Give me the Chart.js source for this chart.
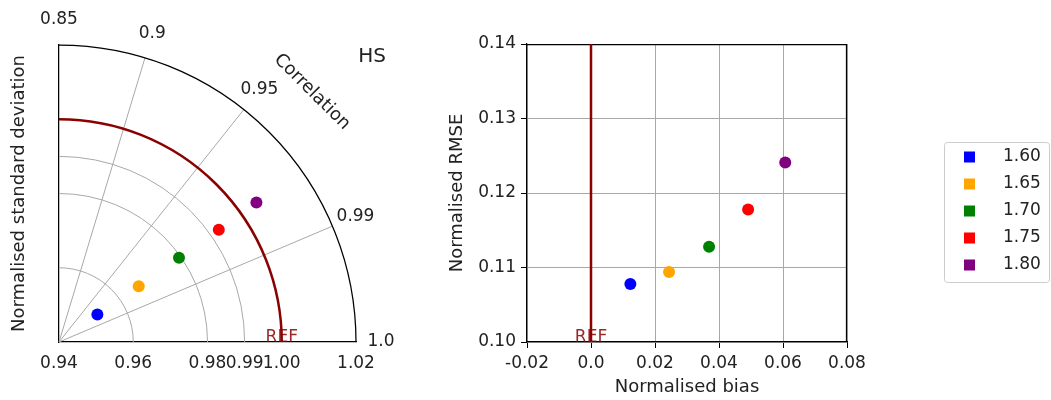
<!DOCTYPE html>
<html>
<head>
<meta charset="utf-8">
<script src="https://cdn.jsdelivr.net/npm/chart.js@4/dist/chart.umd.min.js"></script>
<style>
  body { margin: 0; background: #fff; }
  #wrap { position: relative; width: 1051px; height: 400px; }
  #taylor { position: absolute; left: 0; top: 0; }
  #scatter { position: absolute; left: 440px; top: 0; }
</style>
</head>
<body>
<div id="wrap">
  <canvas id="taylor" width="440" height="400"></canvas>
  <canvas id="scatter" width="611" height="400"></canvas>
</div>
<script>
// model runs
const labels = ["1.60", "1.65", "1.70", "1.75", "1.80"];
const colors = ["blue", "orange", "green", "red", "purple"];

// Taylor diagram values
const stdDev = [0.9527, 0.9662, 0.9795, 0.9926, 1.0051];
const correlation = [0.9761, 0.9769, 0.9767, 0.9767, 0.9765];

// bias / rmse values
const bias = [0.0123, 0.0244, 0.0369, 0.0491, 0.0607];
const rmse = [0.1078, 0.1094, 0.1128, 0.1178, 0.1241];

// reference
const refStd = 1.0;
const refBias = 0.0;

// ticks
const stdTicks = [0.94, 0.96, 0.98, 0.99, 1.00, 1.02];
const stdGrid = [0.96, 0.98, 0.99];
const corrTicks = [0.85, 0.9, 0.95, 0.99, 1.0];
const corrTickLabels = ["0.85", "0.9", "0.95", "0.99", "1.0"];
const corrGrid = [0.9, 0.95, 0.99];
const biasTicks = [-0.02, 0, 0.02, 0.04, 0.06, 0.08];
const rmseTicks = [0.10, 0.11, 0.12, 0.13, 0.14];

Chart.defaults.font.family = "'DejaVu Sans', sans-serif";
Chart.defaults.font.size = 17;
Chart.defaults.color = "#222";
Chart.defaults.animation = false;

const darkRed = "#8b0000";
const gridGray = "#a8a8a8";
const titleFont = { size: 18 };

const stdMin = stdTicks[0];
const stdMax = stdTicks[stdTicks.length - 1];

// correlation -> angle, stretched so corrTicks[0] sits at 90 degrees
function corrAngle(c) {
  return (Math.acos(c) / Math.acos(corrTicks[0])) * Math.PI / 2;
}

function taylorPoint(i) {
  const r = stdDev[i] - stdMin;
  const a = corrAngle(correlation[i]);
  return { x: stdMin + r * Math.cos(a), y: stdMin + r * Math.sin(a) };
}

const taylorGrid = {
  id: "taylorGrid",
  beforeDatasetsDraw(chart) {
    const { ctx, scales: { x, y }, chartArea } = chart;
    const ox = x.getPixelForValue(stdMin);
    const oy = y.getPixelForValue(stdMin);
    const rad = (s) => x.getPixelForValue(s) - ox;
    const R = rad(stdMax);

    ctx.save();
    ctx.lineWidth = 1;
    ctx.strokeStyle = gridGray;
    stdGrid.forEach((s) => {
      ctx.beginPath();
      ctx.arc(ox, oy, rad(s), -Math.PI / 2, 0);
      ctx.stroke();
    });
    corrGrid.forEach((c) => {
      const a = corrAngle(c);
      ctx.beginPath();
      ctx.moveTo(ox, oy);
      ctx.lineTo(ox + R * Math.cos(a), oy - R * Math.sin(a));
      ctx.stroke();
    });

    // outer boundary
    ctx.strokeStyle = "#000";
    ctx.lineWidth = 1.25;
    ctx.beginPath();
    ctx.arc(ox, oy, R, -Math.PI / 2, 0);
    ctx.stroke();

    // reference arc
    ctx.strokeStyle = darkRed;
    ctx.lineWidth = 2.5;
    ctx.beginPath();
    ctx.arc(ox, oy, rad(refStd), -Math.PI / 2, 0);
    ctx.stroke();

    ctx.font = "17px 'DejaVu Sans', sans-serif";
    ctx.fillStyle = "rgba(139,0,0,0.85)";
    ctx.textAlign = "center";
    ctx.textBaseline = "alphabetic";
    ctx.fillText("REF", ox + rad(refStd), oy);

    // correlation labels
    ctx.fillStyle = "#222";
    ctx.textBaseline = "middle";
    corrTicks.forEach((c, i) => {
      const a = corrAngle(c);
      ctx.fillText(corrTickLabels[i], ox + (R + 25) * Math.cos(a), oy - (R + 25) * Math.sin(a));
    });

    ctx.save();
    ctx.font = "18px 'DejaVu Sans', sans-serif";
    ctx.translate(ox + R * 1.2 * Math.cos(Math.PI / 4) + 1, oy - R * 1.2 * Math.sin(Math.PI / 4) + 2);
    ctx.rotate(Math.PI / 4);
    ctx.fillText("Correlation", 0, 0);
    ctx.restore();

    ctx.font = "20px 'DejaVu Sans', sans-serif";
    ctx.fillText("HS", chartArea.right + 16, chartArea.top + 12);
    ctx.restore();
  },
};

new Chart(document.getElementById("taylor"), {
  type: "scatter",
  data: {
    datasets: labels.map((l, i) => ({
      label: l,
      data: [taylorPoint(i)],
      backgroundColor: colors[i],
      borderWidth: 0,
      pointRadius: 6,
    })),
  },
  options: {
    responsive: false,
    events: [],
    layout: { padding: { top: 45, right: 84, left: 0, bottom: 0 } },
    plugins: { legend: { display: false }, tooltip: { enabled: false } },
    scales: {
      x: {
        min: stdMin,
        max: stdMax,
        afterBuildTicks: (s) => { s.ticks = stdTicks.map((v) => ({ value: v })); },
        afterFit: (s) => { s.height = 58; },
        ticks: { callback: (v) => v.toFixed(2), padding: 11, maxRotation: 0, autoSkip: false },
        grid: { display: false, drawTicks: false },
        border: { display: true, color: "#000", width: 1.25 },
      },
      y: {
        min: stdMin,
        max: stdMax,
        afterFit: (s) => { s.width = 59; },
        ticks: { display: false },
        grid: { display: false, drawTicks: false },
        border: { display: true, color: "#000", width: 1.25 },
        title: { display: true, text: "Normalised standard deviation", font: titleFont, padding: { top: 9, bottom: 0 } },
      },
    },
  },
  plugins: [taylorGrid],
});

const scatterExtras = {
  id: "scatterExtras",
  beforeDatasetsDraw(chart) {
    const { ctx, scales: { x }, chartArea } = chart;
    const rx = x.getPixelForValue(refBias);
    ctx.save();
    // top and right spines
    ctx.strokeStyle = "#000";
    ctx.lineWidth = 1.25;
    ctx.beginPath();
    ctx.moveTo(chartArea.left, chartArea.top + 0.5);
    ctx.lineTo(chartArea.right - 0.5, chartArea.top + 0.5);
    ctx.lineTo(chartArea.right - 0.5, chartArea.bottom);
    ctx.stroke();
    ctx.strokeStyle = darkRed;
    ctx.lineWidth = 2.5;
    ctx.beginPath();
    ctx.moveTo(rx, chartArea.top);
    ctx.lineTo(rx, chartArea.bottom);
    ctx.stroke();
    ctx.font = "17px 'DejaVu Sans', sans-serif";
    ctx.fillStyle = "rgba(139,0,0,0.85)";
    ctx.textAlign = "center";
    ctx.fillText("REF", rx, chartArea.bottom);
    ctx.restore();
  },
  afterDraw(chart) {
    const { ctx } = chart;
    // legend box
    const bx = 504, by = 142, bw = 105, bh = 140;
    ctx.save();
    ctx.strokeStyle = "#cccccc";
    ctx.lineWidth = 1;
    ctx.beginPath();
    ctx.roundRect(bx + 0.5, by + 0.5, bw, bh, 3);
    ctx.stroke();
    ctx.font = "17px 'DejaVu Sans', sans-serif";
    ctx.textBaseline = "middle";
    ctx.textAlign = "left";
    labels.forEach((l, i) => {
      const cy = by + 15 + i * 27;
      ctx.fillStyle = colors[i];
      ctx.fillRect(bx + 20, cy - 5.5, 11, 11);
      ctx.fillStyle = "#222";
      ctx.fillText(l, bx + 59, cy);
    });
    ctx.restore();
  },
};

const fmtBias = (v) => (Math.abs(v) < 1e-9 ? "0.0" : v.toFixed(2));

new Chart(document.getElementById("scatter"), {
  type: "scatter",
  data: {
    datasets: labels.map((l, i) => ({
      label: l,
      data: [{ x: bias[i], y: rmse[i] }],
      backgroundColor: colors[i],
      borderWidth: 0,
      pointRadius: 6,
    })),
  },
  options: {
    responsive: false,
    events: [],
    layout: { padding: { top: 44, right: 204, left: 0, bottom: 0 } },
    plugins: { legend: { display: false }, tooltip: { enabled: false } },
    scales: {
      x: {
        min: biasTicks[0],
        max: biasTicks[biasTicks.length - 1],
        afterBuildTicks: (s) => { s.ticks = biasTicks.map((v) => ({ value: v })); },
        afterFit: (s) => { s.height = 58; },
        ticks: { callback: fmtBias, padding: 5, maxRotation: 0, autoSkip: false },
        grid: {
          color: (c) => (c.tick && Math.abs(c.tick.value - refBias) < 1e-9 ? "rgba(0,0,0,0)" : gridGray),
          tickColor: "#000",
          tickLength: 6,
        },
        border: { display: true, color: "#000", width: 1.25 },
        title: { display: true, text: "Normalised bias", font: titleFont, padding: { top: 4, bottom: 2 } },
      },
      y: {
        min: rmseTicks[0],
        max: rmseTicks[rmseTicks.length - 1],
        afterBuildTicks: (s) => { s.ticks = rmseTicks.map((v) => ({ value: v })); },
        afterFit: (s) => { s.width = 87; },
        ticks: { callback: (v) => v.toFixed(2), padding: 5, autoSkip: false },
        grid: { color: gridGray, tickColor: "#000", tickLength: 6 },
        border: { display: true, color: "#000", width: 1.25 },
        title: { display: true, text: "Normalised RMSE", font: titleFont, padding: { top: 7, bottom: 0 } },
      },
    },
  },
  plugins: [scatterExtras],
});
</script>
</body>
</html>
